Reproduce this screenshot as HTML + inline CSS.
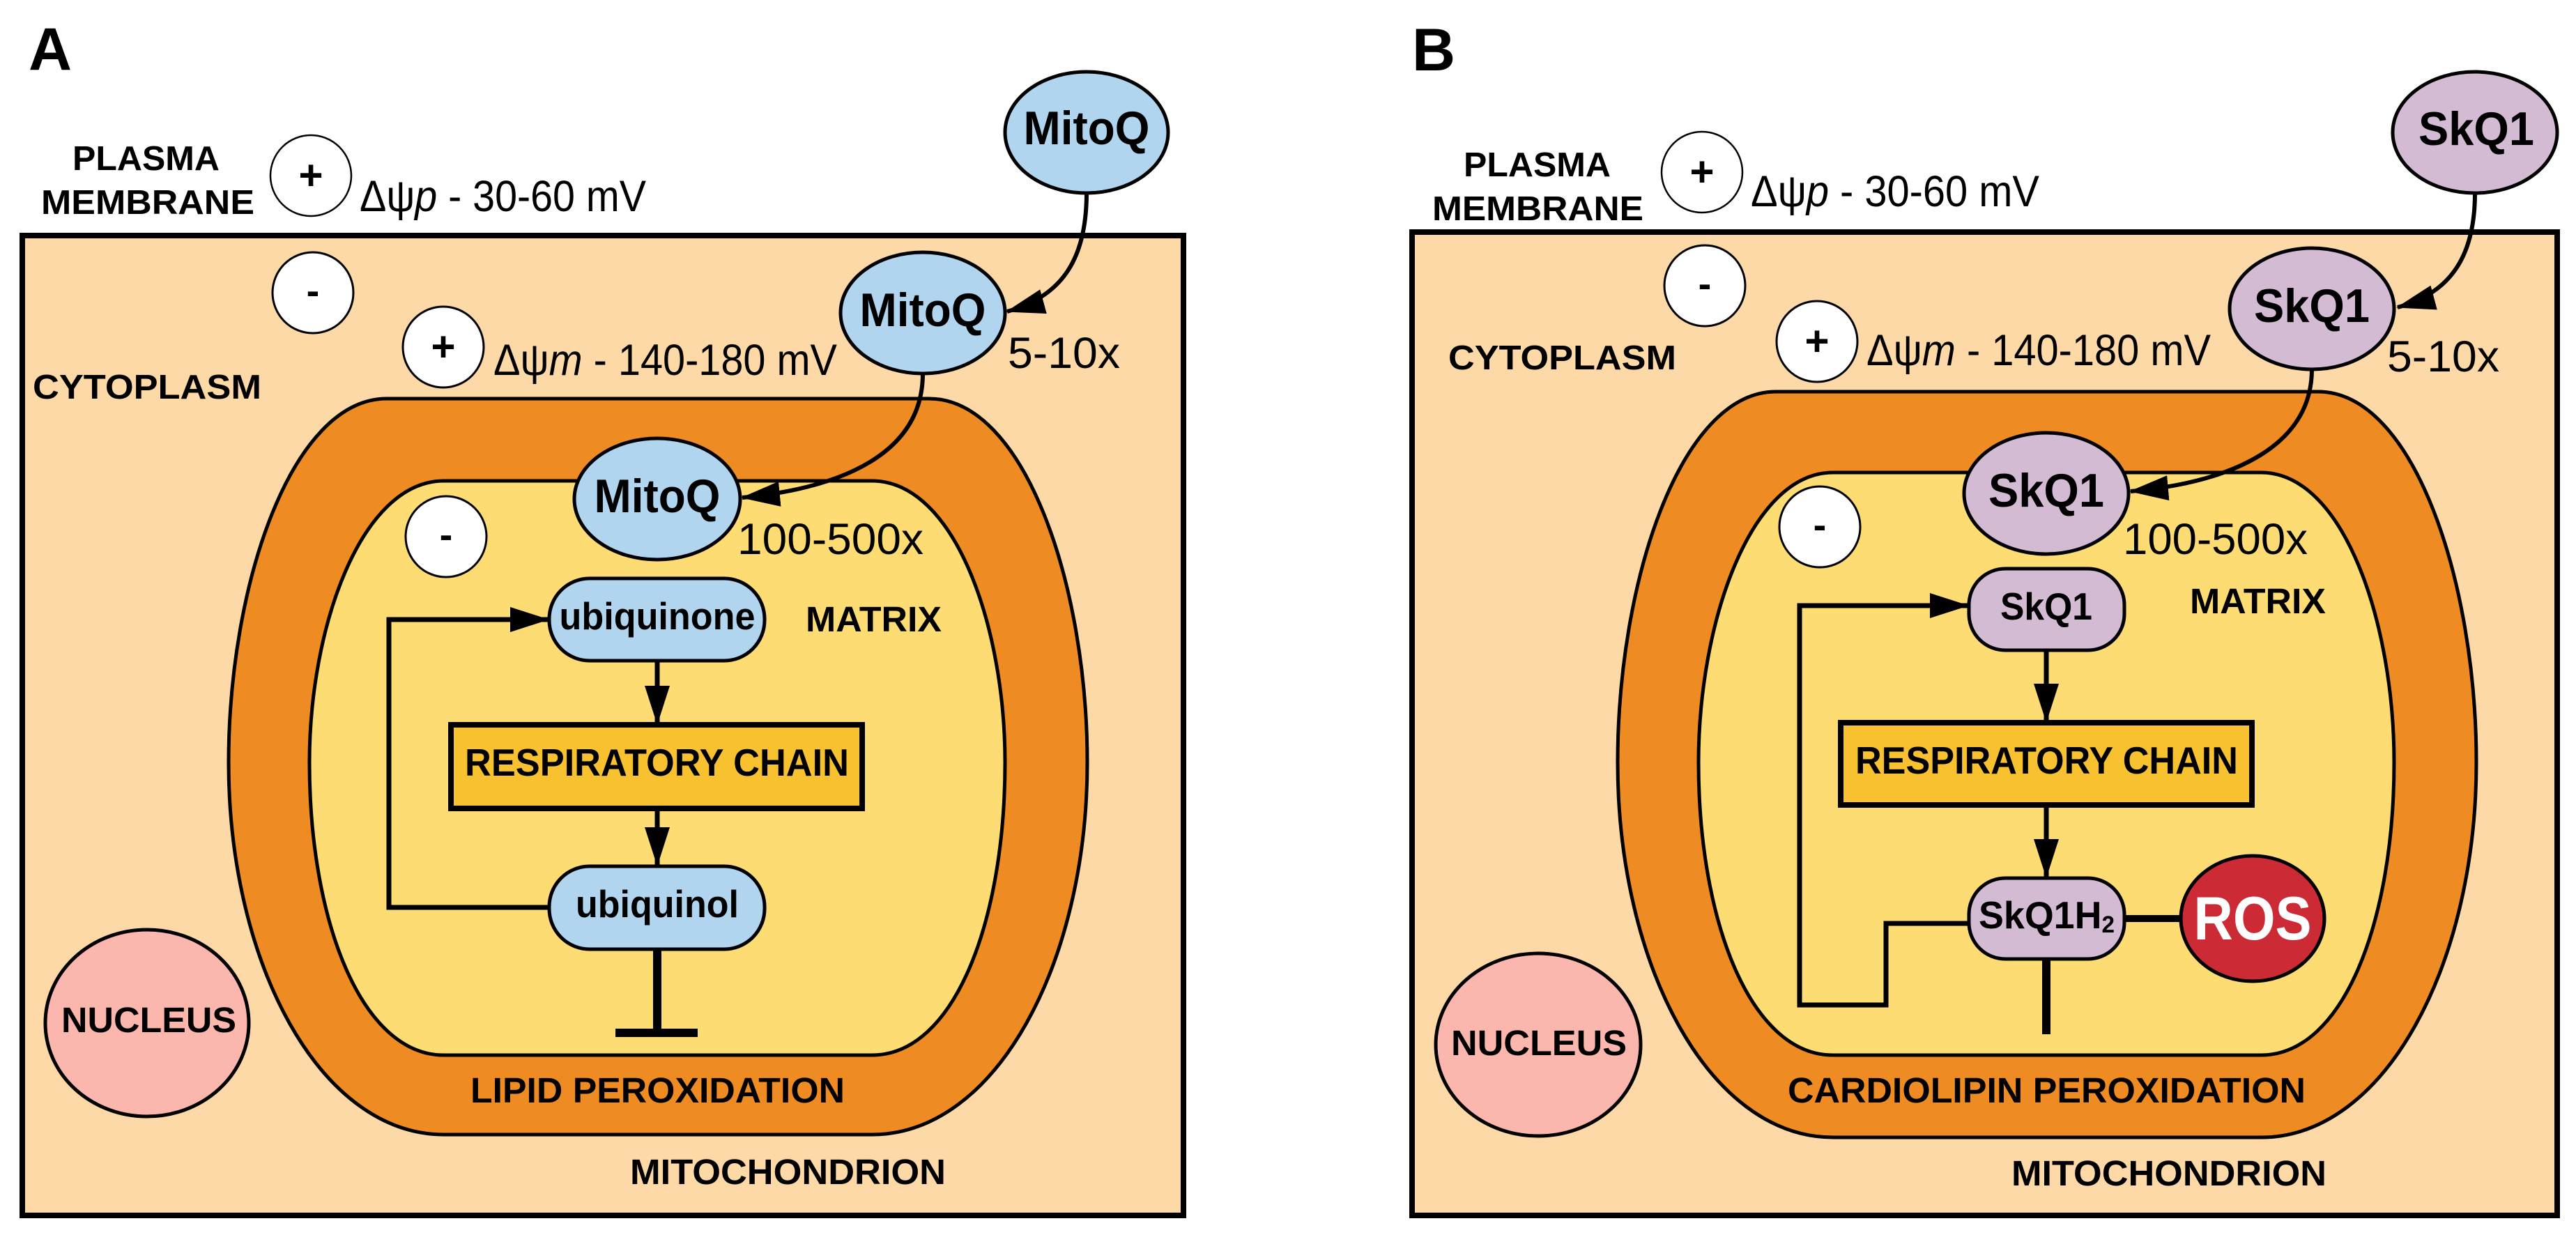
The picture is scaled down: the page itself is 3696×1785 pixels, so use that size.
<!DOCTYPE html>
<html><head><meta charset="utf-8"><style>
html,body{margin:0;padding:0;background:#fff;}
svg{display:block;}
text{font-family:"Liberation Sans",Arial,sans-serif;fill:#000;}
.b{font-weight:bold;}
</style></head><body>
<svg width="3696" height="1785" viewBox="0 0 3696 1785" xmlns="http://www.w3.org/2000/svg">
<defs>
<marker id="ah" markerUnits="userSpaceOnUse" markerWidth="60" markerHeight="40" refX="54" refY="18" orient="auto">
<path d="M0,0 L56,18 L0,36 Z" fill="#000"/>
</marker>
</defs>

<!-- ================= PANEL A ================= -->
<g>
<text x="41" y="100" class="b" font-size="86">A</text>
<text x="104" y="244" class="b" font-size="49" textLength="211" lengthAdjust="spacingAndGlyphs">PLASMA</text>
<text x="59" y="307" class="b" font-size="49" textLength="306" lengthAdjust="spacingAndGlyphs">MEMBRANE</text>
<circle cx="446" cy="252" r="58" fill="#fff" stroke="#000" stroke-width="2.5"/>
<text x="446" y="272" class="b" font-size="60" text-anchor="middle">+</text>
<text x="516" y="303" font-size="63" textLength="411" lengthAdjust="spacingAndGlyphs">Δψ<tspan font-style="italic">p</tspan> - 30-60 mV</text>

<rect x="32" y="338" width="1666" height="1406" fill="#fdd9a8" stroke="#000" stroke-width="8"/>

<circle cx="449" cy="420" r="58" fill="#fff" stroke="#000" stroke-width="3"/>
<text x="449" y="436" class="b" font-size="56" text-anchor="middle">-</text>
<circle cx="636" cy="498" r="58" fill="#fff" stroke="#000" stroke-width="3"/>
<text x="636" y="518" class="b" font-size="60" text-anchor="middle">+</text>
<text x="708" y="538" font-size="63" textLength="493" lengthAdjust="spacingAndGlyphs">Δψ<tspan font-style="italic">m</tspan> - 140-180 mV</text>
<text x="47" y="572" class="b" font-size="49" textLength="328" lengthAdjust="spacingAndGlyphs">CYTOPLASM</text>

<path d="M555,572 H1333 C1470,572 1560,840 1560,1094 C1560,1380 1430,1628 1251,1628 H637 C458,1628 328,1380 328,1094 C328,840 418,572 555,572 Z" fill="#ee8b23" stroke="#000" stroke-width="5"/>
<path d="M637,690 H1251 C1370,690 1442,900 1442,1094 C1442,1320 1370,1514 1251,1514 H637 C518,1514 444,1320 444,1094 C444,900 518,690 637,690 Z" fill="#fddc73" stroke="#000" stroke-width="5"/>

<ellipse cx="1559" cy="190" rx="117" ry="87" fill="#b1d5ef" stroke="#000" stroke-width="5"/>
<text x="1559" y="207" class="b" font-size="68" text-anchor="middle" textLength="181" lengthAdjust="spacingAndGlyphs">MitoQ</text>
<ellipse cx="1324" cy="449" rx="118" ry="87" fill="#b1d5ef" stroke="#000" stroke-width="5"/>
<text x="1324" y="468" class="b" font-size="68" text-anchor="middle" textLength="181" lengthAdjust="spacingAndGlyphs">MitoQ</text>
<text x="1446" y="528" font-size="63" textLength="161" lengthAdjust="spacingAndGlyphs">5-10x</text>
<path d="M1559,277 C1559,370 1525,425 1445,447" fill="none" stroke="#000" stroke-width="6" marker-end="url(#ah)"/>

<ellipse cx="943" cy="716" rx="119" ry="87" fill="#b1d5ef" stroke="#000" stroke-width="5"/>
<text x="943" y="735" class="b" font-size="68" text-anchor="middle" textLength="181" lengthAdjust="spacingAndGlyphs">MitoQ</text>
<text x="1058" y="795" font-size="63" textLength="267" lengthAdjust="spacingAndGlyphs">100-500x</text>
<path d="M1324,536 C1324,650 1210,700 1065,714" fill="none" stroke="#000" stroke-width="6" marker-end="url(#ah)"/>

<circle cx="640" cy="770" r="58" fill="#fff" stroke="#000" stroke-width="3"/>
<text x="640" y="786" class="b" font-size="56" text-anchor="middle">-</text>

<rect x="788" y="830" width="309" height="118" rx="58" fill="#b1d5ef" stroke="#000" stroke-width="5"/>
<text x="943" y="903" class="b" font-size="55" text-anchor="middle" textLength="281" lengthAdjust="spacingAndGlyphs">ubiquinone</text>
<text x="1156" y="906" class="b" font-size="51" textLength="195" lengthAdjust="spacingAndGlyphs">MATRIX</text>

<line x1="943" y1="948" x2="943" y2="1038" stroke="#000" stroke-width="7" marker-end="url(#ah)"/>
<rect x="647" y="1040" width="590" height="120" fill="#f8c12f" stroke="#000" stroke-width="8"/>
<text x="667" y="1113" class="b" font-size="55" textLength="551" lengthAdjust="spacingAndGlyphs">RESPIRATORY CHAIN</text>
<line x1="943" y1="1160" x2="943" y2="1241" stroke="#000" stroke-width="7" marker-end="url(#ah)"/>

<rect x="788" y="1243" width="309" height="119" rx="58" fill="#b1d5ef" stroke="#000" stroke-width="5"/>
<text x="943" y="1316" class="b" font-size="55" text-anchor="middle" textLength="234" lengthAdjust="spacingAndGlyphs">ubiquinol</text>
<path d="M788,1302 H558 V889 H786" fill="none" stroke="#000" stroke-width="7" marker-end="url(#ah)"/>
<line x1="943" y1="1362" x2="943" y2="1482" stroke="#000" stroke-width="12"/>
<line x1="883" y1="1482" x2="1001" y2="1482" stroke="#000" stroke-width="12"/>

<text x="675" y="1582" class="b" font-size="51" textLength="537" lengthAdjust="spacingAndGlyphs">LIPID PEROXIDATION</text>
<text x="904" y="1699" class="b" font-size="51" textLength="453" lengthAdjust="spacingAndGlyphs">MITOCHONDRION</text>

<ellipse cx="211" cy="1468" rx="146" ry="134" fill="#fbb6ae" stroke="#000" stroke-width="5"/>
<text x="88" y="1481" class="b" font-size="51" textLength="251" lengthAdjust="spacingAndGlyphs">NUCLEUS</text>
</g>

<!-- ================= PANEL B ================= -->
<g transform="translate(1993,0)">
<text x="33" y="101" class="b" font-size="86">B</text>
<text x="107" y="253" class="b" font-size="49" textLength="211" lengthAdjust="spacingAndGlyphs">PLASMA</text>
<text x="62" y="316" class="b" font-size="49" textLength="303" lengthAdjust="spacingAndGlyphs">MEMBRANE</text>
<circle cx="449" cy="247" r="58" fill="#fff" stroke="#000" stroke-width="2.5"/>
<text x="449" y="267" class="b" font-size="60" text-anchor="middle">+</text>
<text x="519" y="296" font-size="63" textLength="414" lengthAdjust="spacingAndGlyphs">Δψ<tspan font-style="italic">p</tspan> - 30-60 mV</text>

<rect x="33" y="333" width="1643" height="1411" fill="#fdd9a8" stroke="#000" stroke-width="8"/>

<circle cx="453" cy="410" r="58" fill="#fff" stroke="#000" stroke-width="3"/>
<text x="453" y="426" class="b" font-size="56" text-anchor="middle">-</text>
<circle cx="614" cy="490" r="58" fill="#fff" stroke="#000" stroke-width="3"/>
<text x="614" y="510" class="b" font-size="60" text-anchor="middle">+</text>
<text x="685" y="524" font-size="63" textLength="494" lengthAdjust="spacingAndGlyphs">Δψ<tspan font-style="italic">m</tspan> - 140-180 mV</text>
<text x="85" y="530" class="b" font-size="49" textLength="327" lengthAdjust="spacingAndGlyphs">CYTOPLASM</text>

<path d="M555,562 H1333 C1470,562 1560,835 1560,1094 C1560,1382 1430,1632 1251,1632 H637 C458,1632 328,1382 328,1094 C328,835 418,562 555,562 Z" fill="#ee8b23" stroke="#000" stroke-width="5"/>
<path d="M637,678 H1251 C1370,678 1442,895 1442,1094 C1442,1320 1370,1514 1251,1514 H637 C518,1514 444,1320 444,1094 C444,895 518,678 637,678 Z" fill="#fddc73" stroke="#000" stroke-width="5"/>

<ellipse cx="1558" cy="190" rx="118" ry="87" fill="#d3bbd3" stroke="#000" stroke-width="5"/>
<text x="1560" y="208" class="b" font-size="68" text-anchor="middle" textLength="166" lengthAdjust="spacingAndGlyphs">SkQ1</text>
<ellipse cx="1324" cy="443" rx="118" ry="87" fill="#d3bbd3" stroke="#000" stroke-width="5"/>
<text x="1324" y="462" class="b" font-size="68" text-anchor="middle" textLength="166" lengthAdjust="spacingAndGlyphs">SkQ1</text>
<text x="1432" y="533" font-size="63" textLength="161" lengthAdjust="spacingAndGlyphs">5-10x</text>
<path d="M1558,277 C1558,365 1525,420 1447,441" fill="none" stroke="#000" stroke-width="6" marker-end="url(#ah)"/>

<ellipse cx="943" cy="708" rx="118" ry="87" fill="#d3bbd3" stroke="#000" stroke-width="5"/>
<text x="943" y="727" class="b" font-size="68" text-anchor="middle" textLength="166" lengthAdjust="spacingAndGlyphs">SkQ1</text>
<text x="1053" y="795" font-size="63" textLength="265" lengthAdjust="spacingAndGlyphs">100-500x</text>
<path d="M1324,530 C1324,640 1210,692 1064,705" fill="none" stroke="#000" stroke-width="6" marker-end="url(#ah)"/>

<circle cx="618" cy="756" r="58" fill="#fff" stroke="#000" stroke-width="3"/>
<text x="618" y="772" class="b" font-size="56" text-anchor="middle">-</text>

<rect x="832" y="816" width="223" height="117" rx="52" fill="#d3bbd3" stroke="#000" stroke-width="5"/>
<text x="943" y="889" class="b" font-size="55" text-anchor="middle" textLength="132" lengthAdjust="spacingAndGlyphs">SkQ1</text>
<text x="1149" y="880" class="b" font-size="51" textLength="195" lengthAdjust="spacingAndGlyphs">MATRIX</text>

<line x1="943" y1="933" x2="943" y2="1035" stroke="#000" stroke-width="7" marker-end="url(#ah)"/>
<rect x="648" y="1037" width="590" height="118" fill="#f8c12f" stroke="#000" stroke-width="8"/>
<text x="669" y="1110" class="b" font-size="55" textLength="549" lengthAdjust="spacingAndGlyphs">RESPIRATORY CHAIN</text>
<line x1="943" y1="1155" x2="943" y2="1258" stroke="#000" stroke-width="7" marker-end="url(#ah)"/>

<path d="M832,1325 H713 V1442 H589 V869 H830" fill="none" stroke="#000" stroke-width="7" marker-end="url(#ah)"/>
<line x1="943" y1="1376" x2="943" y2="1484" stroke="#000" stroke-width="12"/>
<line x1="1055" y1="1318" x2="1140" y2="1318" stroke="#000" stroke-width="10"/>

<rect x="832" y="1260" width="223" height="116" rx="52" fill="#d3bbd3" stroke="#000" stroke-width="5"/>
<text x="846" y="1332" class="b" font-size="55" textLength="195" lengthAdjust="spacingAndGlyphs">SkQ1H<tspan font-size="34" dy="6">2</tspan></text>

<ellipse cx="1239" cy="1318" rx="103" ry="90" fill="#cc2a35" stroke="#000" stroke-width="5"/>
<text x="1239" y="1348" class="b" font-size="88" text-anchor="middle" style="fill:#fff" textLength="169" lengthAdjust="spacingAndGlyphs">ROS</text>

<text x="572" y="1582" class="b" font-size="51" textLength="743" lengthAdjust="spacingAndGlyphs">CARDIOLIPIN PEROXIDATION</text>
<text x="893" y="1701" class="b" font-size="51" textLength="452" lengthAdjust="spacingAndGlyphs">MITOCHONDRION</text>

<ellipse cx="214" cy="1499" rx="147" ry="131" fill="#fbb6ae" stroke="#000" stroke-width="5"/>
<text x="89" y="1514" class="b" font-size="51" textLength="252" lengthAdjust="spacingAndGlyphs">NUCLEUS</text>
</g>
</svg>
</body></html>
